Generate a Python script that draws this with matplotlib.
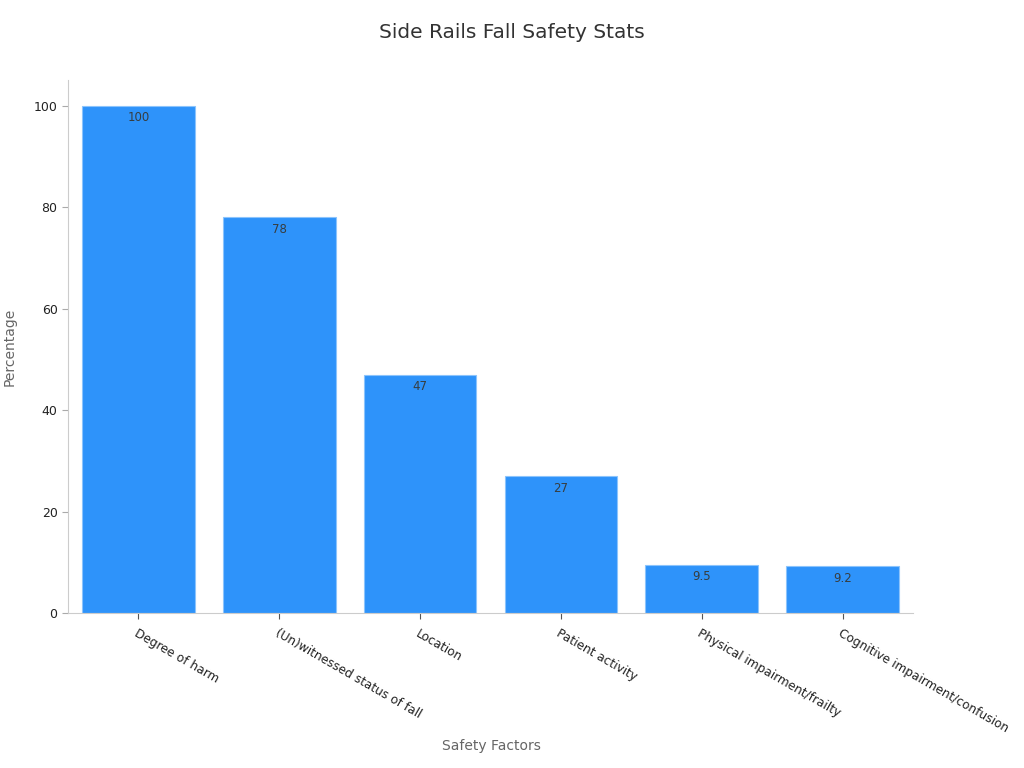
import matplotlib
matplotlib.use("Agg")
import matplotlib.pyplot as plt

categories = ["Degree of harm", "(Un)witnessed status of fall", "Location",
              "Patient activity", "Physical impairment/frailty",
              "Cognitive impairment/confusion"]
values = [100, 78, 47, 27, 9.5, 9.2]
value_labels = ["100", "78", "47", "27", "9.5", "9.2"]

fig = plt.figure(figsize=(10.24, 7.68), dpi=100)
ax = fig.add_axes([0.0664, 0.2018, 0.8252, 0.694])

x = list(range(len(categories)))
ax.bar(x, values, width=0.8, color="#2E93FA", edgecolor="#8cc4fc", linewidth=0.8)
for xi, v, lab in zip(x, values, value_labels):
    ax.annotate(lab, (xi, v), xytext=(0, -4), textcoords="offset points",
                ha="center", va="top", fontsize=8.5, color="#373d3f")

ax.set_xlim(-0.5, 5.5)
ax.set_ylim(0, 105.1)
ax.set_yticks([0, 20, 40, 60, 80, 100])
ax.set_xticks(x)
ax.set_xticklabels(categories, rotation=-30, ha="left", rotation_mode="anchor",
                   fontsize=8.7, color="#222222")
ax.tick_params(axis="y", labelsize=9, colors="#222222", length=4, color="#aaaaaa")
ax.tick_params(axis="x", length=4, color="#555555", pad=6)
for s in ["top", "right"]:
    ax.spines[s].set_visible(False)
for s in ["left", "bottom"]:
    ax.spines[s].set_color("#cccccc")

ax.set_ylabel("Percentage", fontsize=10, color="#666666", labelpad=12)
fig.text(0.48, 0.023, "Safety Factors", ha="center", fontsize=10, color="#666666")
fig.suptitle("Side Rails Fall Safety Stats", fontsize=14.5, color="#333333", y=0.97)

fig.savefig("out.png", dpi=100)
